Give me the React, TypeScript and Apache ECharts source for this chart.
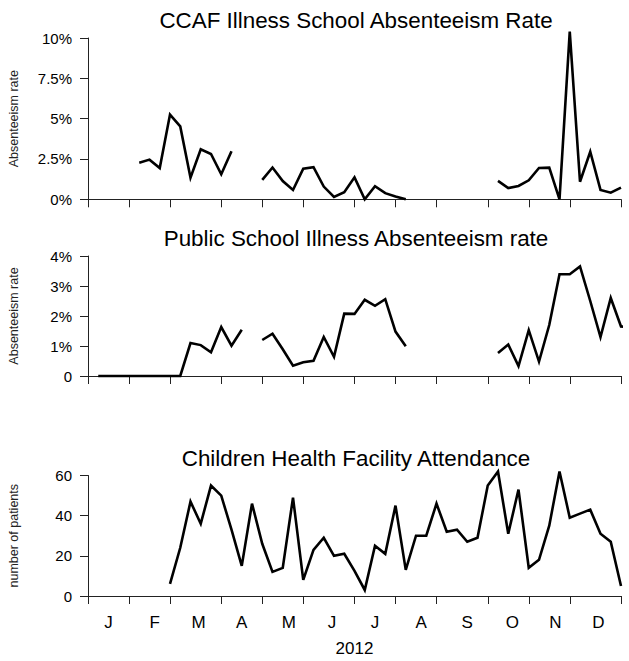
import React, { useEffect, useRef } from "react";
import * as echarts from "echarts";

// Weekly x positions (week of 2012, 0 = Jan 1, 52 = Dec 31)
const monthTickWeeks = [0, 4, 8, 13, 17, 21, 26, 30, 34, 39, 43, 47, 52];
const monthLabelWeeks = [2.0, 6.5, 10.8, 15.0, 19.6, 23.8, 28.0, 32.5, 37.0, 41.4, 45.6, 49.8];
const monthLabels = ["J", "F", "M", "A", "M", "J", "J", "A", "S", "O", "N", "D"];
const yearLabel = "2012";

// CCAF illness school absenteeism rate (%), weeks 0..52
const ccafRate: (number | null)[] = [
  null, null, null, null, null,
  2.27, 2.46, 1.94, 5.25, 4.52, 1.34, 3.1, 2.81, 1.55, 2.98,
  null, null,
  1.2, 1.97, 1.13, 0.58, 1.9, 1.99, 0.79, 0.15, 0.44, 1.36, 0, 0.81, 0.38, 0.18, 0,
  null, null, null, null, null, null, null, null,
  1.14, 0.7, 0.83, 1.18, 1.94, 1.96, 0, 10.4, 1.09, 2.95, 0.58, 0.41, 0.72,
];

// Public school illness absenteeism rate (%), weeks 0..53
const publicRate: (number | null)[] = [
  null,
  0, 0, 0, 0, 0, 0, 0, 0, 0,
  1.1, 1.03, 0.79, 1.63, 1.01, 1.54,
  null,
  1.2, 1.41, 0.89, 0.34, 0.46, 0.51, 1.3, 0.64, 2.08, 2.07, 2.54, 2.34, 2.56, 1.48, 0.99,
  null, null, null, null, null, null, null, null,
  0.77, 1.05, 0.33, 1.53, 0.48, 1.7, 3.39, 3.39, 3.65, 2.5, 1.3, 2.6, 1.65,
  1.62,
];

// Children health facility attendance (number of patients), weeks 0..52
const attendance: (number | null)[] = [
  null, null, null, null, null, null, null, null,
  6, 24, 47, 36, 55, 50, 33, 15, 46, 26, 12, 14, 49, 8, 23, 29, 20, 21, 12.5, 3,
  25, 21, 45, 13, 30, 30, 46, 32, 33, 27, 29, 55, 62, 31, 53, 14, 18, 35, 62,
  39, 41, 43, 31, 27, 5,
];

const titles = [
  "CCAF Illness School Absenteeism Rate",
  "Public School Illness Absenteeism rate",
  "Children Health Facility Attendance",
];
const yNames = ["Absenteeism rate", "Absenteeism rate", "number of patients"];

const FONT = "'Liberation Sans', Arial, Helvetica, sans-serif";

const toPairs = (arr: (number | null)[]) =>
  arr.map((v, i) => [i, v === null ? "-" : v]);

export default function App() {
  const ref = useRef<HTMLDivElement>(null);

  useEffect(() => {
    if (!ref.current) return;
    const chart = echarts.init(ref.current, undefined, { renderer: "svg" });

    const grids = [
      { left: 88, right: 8, top: 38, height: 161.3 },
      { left: 88, right: 8, top: 256, height: 120 },
      { left: 88, right: 8, top: 475.5, height: 120.5 },
    ];

    const axisLine = { show: true, lineStyle: { color: "#222", width: 1 } };
    const tickStyle = { color: "#222", width: 1 };

    const xAxes = grids.map((_, i) => ({
      type: "value",
      gridIndex: i,
      min: 0,
      max: 52,
      axisLine,
      axisTick: { show: true, customValues: monthTickWeeks, length: 8, lineStyle: tickStyle },
      splitLine: { show: false },
      axisLabel:
        i === 2
          ? {
              show: true,
              customValues: monthLabelWeeks,
              formatter: (v: number) => {
                const idx = monthLabelWeeks.indexOf(v);
                return idx >= 0 ? monthLabels[idx] : "";
              },
              fontSize: 17,
              fontFamily: FONT,
              color: "#000",
              margin: 18,
            }
          : { show: false },
      ...(i === 2
        ? {
            name: yearLabel,
            nameLocation: "middle",
            nameGap: 44,
            nameTextStyle: { fontSize: 17, fontFamily: FONT, color: "#000" },
          }
        : {}),
    }));

    const yCfg = [
      { max: 10, interval: 2.5, fmt: (v: number) => `${v}%` },
      { max: 4, interval: 1, fmt: (v: number) => (v === 0 ? "0" : `${v}%`) },
      { max: 60, interval: 20, fmt: (v: number) => `${v}` },
    ];

    const yAxes = yCfg.map((c, i) => ({
      type: "value",
      gridIndex: i,
      min: 0,
      max: c.max,
      interval: c.interval,
      axisLine,
      axisTick: { show: true, length: 8, lineStyle: tickStyle },
      splitLine: { show: false },
      axisLabel: {
        formatter: c.fmt,
        fontSize: 15,
        fontFamily: FONT,
        color: "#000",
        margin: 16,
      },
    }));

    const seriesData = [ccafRate, publicRate, attendance];
    const series = seriesData.map((arr, i) => ({
      type: "line",
      xAxisIndex: i,
      yAxisIndex: i,
      data: toPairs(arr),
      showSymbol: false,
      connectNulls: false,
      clip: false,
      lineStyle: { color: "#000", width: 2.6, join: "miter" },
      silent: true,
    }));

    const graphic: any[] = [];
    grids.forEach((g, i) => {
      graphic.push({
        type: "text",
        x: 356,
        y: g.top - 17.5,
        style: {
          text: titles[i],
          font: `22.4px ${FONT}`,
          fill: "#000",
          align: "center",
          verticalAlign: "middle",
        },
      });
      graphic.push({
        type: "text",
        x: 14,
        y: g.top + g.height / 2,
        rotation: Math.PI / 2,
        style: {
          text: yNames[i],
          font: `12.5px ${FONT}`,
          fill: "#222",
          align: "center",
          verticalAlign: "middle",
        },
      });
    });

    chart.setOption({
      animation: false,
      backgroundColor: "#fff",
      grid: grids,
      xAxis: xAxes,
      yAxis: yAxes,
      series,
      graphic,
    });

    return () => chart.dispose();
  }, []);

  return (
    <div
      ref={ref}
      style={{ position: "absolute", left: 0, top: 0, width: 629, height: 661 }}
    />
  );
}
